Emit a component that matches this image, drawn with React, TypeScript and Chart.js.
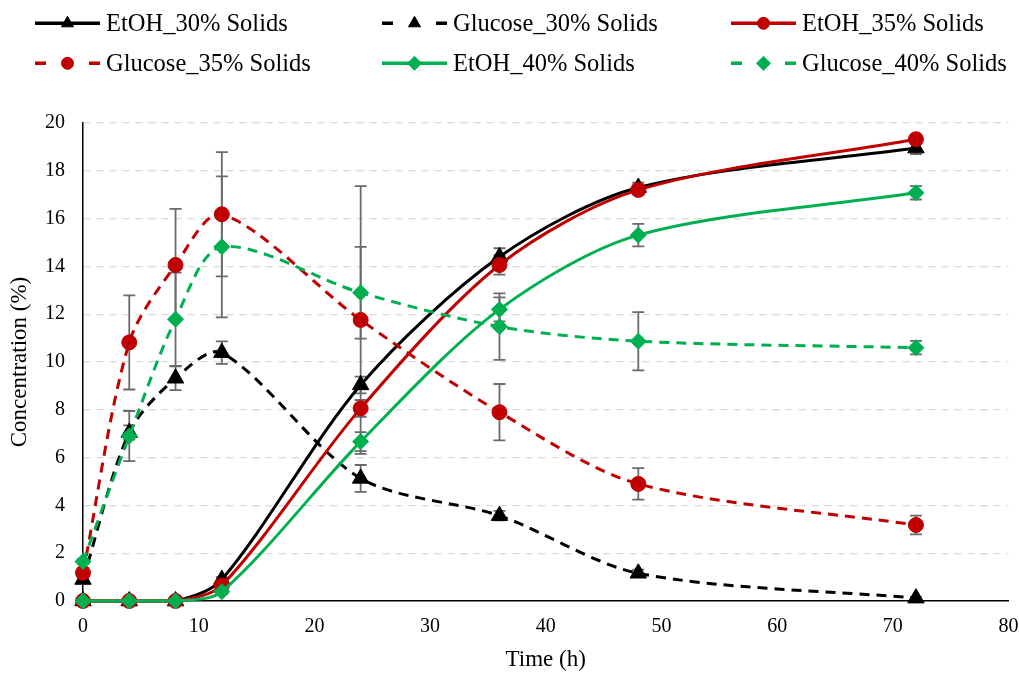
import React, { useEffect, useRef } from 'react';
import { Chart, registerables } from 'chart.js';

Chart.register(...registerables);

// ---- Data ----
const times = [0, 4, 8, 12, 24, 36, 48, 72];

const etoh30 = [0, 0, 0, 0.9, 9.04, 14.4, 17.3, 18.95];
const glucose30 = [0.9, 7.05, 9.32, 10.39, 5.13, 3.57, 1.16, 0.12];
const etoh35 = [0, 0, 0, 0.65, 8.06, 14.06, 17.2, 19.32];
const glucose35 = [1.18, 10.82, 14.06, 16.18, 11.76, 7.9, 4.9, 3.18];
const etoh40 = [0, 0, 0, 0.39, 6.67, 12.2, 15.31, 17.08];
const glucose40 = [1.65, 6.9, 11.79, 14.82, 12.9, 11.48, 10.87, 10.6];

const etoh30Err = [0, 0, 0, 0.1, 0.35, 0.36, 0.2, 0.25];
const glucose30Err = [0.1, 0.3, 0.5, 0.47, 0.56, 0.2, 0.15, 0.05];
const etoh35Err = [0, 0, 0, 0.1, 0.35, 0.4, 0.2, 0.2];
const glucose35Err = [0.2, 1.97, 2.35, 2.6, 5.6, 1.18, 0.66, 0.39];
const etoh40Err = [0, 0, 0, 0.1, 0.4, 0.5, 0.47, 0.28];
const glucose40Err = [0.1, 1.05, 1.95, 2.95, 1.92, 1.39, 1.22, 0.28];

const seriesLabels = [
  'EtOH_30% Solids',
  'Glucose_30% Solids',
  'EtOH_35% Solids',
  'Glucose_35% Solids',
  'EtOH_40% Solids',
  'Glucose_40% Solids',
];

const xTicksMax = 80;
const yTicksMax = 20;

// ---- Styles ----
const BLACK = '#000000';
const RED = '#C00000';
const GREEN = '#00B050';
const FONT = "'Liberation Serif', 'Times New Roman', serif";

const seriesValues = [etoh30, glucose30, etoh35, glucose35, etoh40, glucose40];
const seriesErrors = [etoh30Err, glucose30Err, etoh35Err, glucose35Err, etoh40Err, glucose40Err];
const seriesColors = [BLACK, BLACK, RED, RED, GREEN, GREEN];
const seriesDashed = [false, true, false, true, false, true];
const seriesMarkers = ['triangle', 'triangle', 'circle', 'circle', 'rectRot', 'rectRot'];
const markerRadius: Record<string, number> = { triangle: 9.5, circle: 7.5, rectRot: 8 };
const legendMarkerRadius: Record<string, number> = { triangle: 7, circle: 6, rectRot: 7 };

function drawMarker(ctx: CanvasRenderingContext2D, style: string, x: number, y: number, r: number, color: string) {
  ctx.save();
  ctx.fillStyle = color;
  ctx.strokeStyle = color;
  ctx.lineWidth = 1;
  ctx.setLineDash([]);
  ctx.beginPath();
  if (style === 'circle') {
    ctx.arc(x, y, r, 0, Math.PI * 2);
  } else if (style === 'triangle') {
    ctx.moveTo(x, y - r);
    ctx.lineTo(x + 0.866 * r, y + 0.5 * r);
    ctx.lineTo(x - 0.866 * r, y + 0.5 * r);
    ctx.closePath();
  } else {
    ctx.moveTo(x - r, y);
    ctx.lineTo(x, y - r);
    ctx.lineTo(x + r, y);
    ctx.lineTo(x, y + r);
    ctx.closePath();
  }
  ctx.fill();
  ctx.stroke();
  ctx.restore();
}

const LEGEND_COLS = [35, 382, 731];
const LEGEND_ROWS = [23.3, 63.3];

const legendPlugin = {
  id: 'customLegend',
  afterDraw(chart: any) {
    const ctx: CanvasRenderingContext2D = chart.ctx;
    ctx.save();
    seriesLabels.forEach((label, i) => {
      const col = i % 3;
      const row = Math.floor(i / 3);
      const x0 = LEGEND_COLS[col];
      const y = LEGEND_ROWS[row];
      const color = seriesColors[i];
      ctx.strokeStyle = color;
      ctx.lineWidth = 3.5;
      ctx.setLineDash([]);
      ctx.beginPath();
      if (seriesDashed[i]) {
        ctx.moveTo(x0, y);
        ctx.lineTo(x0 + 11, y);
        ctx.moveTo(x0 + 54, y);
        ctx.lineTo(x0 + 65, y);
      } else {
        ctx.moveTo(x0, y);
        ctx.lineTo(x0 + 65, y);
      }
      ctx.stroke();
      drawMarker(ctx, seriesMarkers[i], x0 + 32.5, y, legendMarkerRadius[seriesMarkers[i]], color);
      ctx.fillStyle = '#000000';
      ctx.font = `24.5px ${FONT}`;
      ctx.textBaseline = 'alphabetic';
      ctx.textAlign = 'left';
      ctx.fillText(label, x0 + 71, y + 7.7);
    });
    ctx.restore();
  },
};

const errorBarPlugin = {
  id: 'errorBars',
  beforeDatasetsDraw(chart: any) {
    const ctx: CanvasRenderingContext2D = chart.ctx;
    const xs = chart.scales.x;
    const ys = chart.scales.y;
    ctx.save();
    ctx.strokeStyle = '#6a6a6a';
    ctx.lineWidth = 1.8;
    ctx.setLineDash([]);
    seriesValues.forEach((vals, s) => {
      const errs = seriesErrors[s];
      vals.forEach((v, i) => {
        const e = errs[i];
        if (!e) return;
        const px = xs.getPixelForValue(times[i]);
        const top = ys.getPixelForValue(v + e);
        const bot = ys.getPixelForValue(v - e);
        ctx.beginPath();
        ctx.moveTo(px, top);
        ctx.lineTo(px, bot);
        ctx.moveTo(px - 6, top);
        ctx.lineTo(px + 6, top);
        ctx.moveTo(px - 6, bot);
        ctx.lineTo(px + 6, bot);
        ctx.stroke();
      });
    });
    ctx.restore();
  },
};

export default function App() {
  const canvasRef = useRef<HTMLCanvasElement | null>(null);

  useEffect(() => {
    if (!canvasRef.current) return;
    const datasets = seriesLabels.map((label, i) => ({
      label,
      data: times.map((t, k) => ({ x: t, y: seriesValues[i][k] })),
      borderColor: seriesColors[i],
      backgroundColor: seriesColors[i],
      borderWidth: 3,
      borderDash: seriesDashed[i] ? [10, 7] : [],
      pointStyle: seriesMarkers[i],
      pointRadius: markerRadius[seriesMarkers[i]],
      pointBorderWidth: 1,
      pointBackgroundColor: seriesColors[i],
      pointBorderColor: seriesColors[i],
      tension: 0.3,
      fill: false,
      clip: false,
      order: 5 - i,
    }));

    const chart = new Chart(canvasRef.current, {
      type: 'line',
      data: { datasets },
      plugins: [errorBarPlugin, legendPlugin],
      options: {
        animation: false,
        responsive: false,
        maintainAspectRatio: false,
        layout: { padding: { top: 123, right: 10, left: 0, bottom: 0 } },
        plugins: {
          legend: { display: false },
          tooltip: { enabled: false },
        },
        scales: {
          x: {
            type: 'linear',
            min: 0,
            max: xTicksMax,
            ticks: {
              stepSize: 10,
              color: '#000000',
              font: { family: FONT, size: 20 },
              padding: 14,
              maxRotation: 0,
            },
            grid: { display: false, drawTicks: false },
            border: { display: true, color: '#000000', width: 1.5 },
            title: {
              display: true,
              text: 'Time (h)',
              color: '#000000',
              font: { family: FONT, size: 23 },
              padding: { top: 0, bottom: 0 },
            },
            afterFit: (scale: any) => {
              scale.height = 73;
              scale.paddingLeft = 0;
              scale.paddingRight = 0;
            },
          },
          y: {
            type: 'linear',
            min: 0,
            max: yTicksMax,
            ticks: {
              stepSize: 2,
              color: '#000000',
              font: { family: FONT, size: 20 },
              padding: 18,
            },
            grid: {
              drawTicks: false,
              color: (c: any) => (c.tick && c.tick.value === 0 ? 'rgba(0,0,0,0)' : '#d9d9d9'),
              lineWidth: 1.3,
            },
            border: { display: true, color: '#000000', width: 1.5, dash: [7, 6] },
            title: {
              display: true,
              text: 'Concentration (%)',
              color: '#000000',
              font: { family: FONT, size: 23 },
              padding: { top: 6, bottom: 0 },
            },
            afterFit: (scale: any) => {
              scale.width = 83;
              scale.paddingTop = 0;
              scale.paddingBottom = 0;
            },
          },
        },
      },
    } as any);

    return () => chart.destroy();
  }, []);

  return (
    <div style={{ position: 'fixed', left: 0, top: 0, width: 1019, height: 674, background: '#ffffff' }}>
      <canvas ref={canvasRef} width={1019} height={674} style={{ display: 'block', width: 1019, height: 674 }} />
    </div>
  );
}
